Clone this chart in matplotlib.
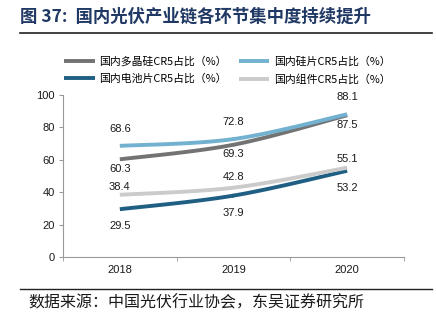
import numpy as np
import matplotlib
matplotlib.use("Agg")
import matplotlib.pyplot as plt
from matplotlib.lines import Line2D

plt.rcParams["font.family"] = ["Liberation Sans", "Noto Sans CJK SC", "DejaVu Sans"]

years = ["2018", "2019", "2020"]
polysilicon = [60.3, 69.3, 87.5]
wafer = [68.6, 72.8, 88.1]
cell = [29.5, 37.9, 53.2]
module = [38.4, 42.8, 55.1]

series_names = ["国内多晶硅CR5占比（%）", "国内硅片CR5占比（%）", "国内电池片CR5占比（%）", "国内组件CR5占比（%）"]
series_values = [polysilicon, wafer, cell, module]
series_colors = ["#737373", "#72b1cf", "#1f5f83", "#cbcbcb"]
# label offsets in pixels (negative = above the point)
label_offsets = [
    [10, 9, 9.5],
    [-17, -17, -17.5],
    [17, 17, 17.5],
    [-7.5, -10.5, -8.5],
]


def smooth(xs, ys, n=40):
    # catmull-rom through the points, like excel smoothed lines
    xs = np.asarray(xs, float)
    ys = np.asarray(ys, float)
    px = np.concatenate([[xs[0]], xs, [xs[-1]]])
    py = np.concatenate([[ys[0]], ys, [ys[-1]]])
    out_x, out_y = [], []
    for i in range(1, len(px) - 2):
        t = np.linspace(0, 1, n)
        for arr, out in ((px, out_x), (py, out_y)):
            p0, p1, p2, p3 = arr[i - 1], arr[i], arr[i + 1], arr[i + 2]
            out.extend(0.5 * ((2 * p1) + (-p0 + p2) * t + (2 * p0 - 5 * p1 + 4 * p2 - p3) * t ** 2
                              + (-p0 + 3 * p1 - 3 * p2 + p3) * t ** 3))
    return out_x, out_y


fig = plt.figure(figsize=(4.36, 3.21), dpi=100)
ax = fig.add_axes([0.1445, 0.1994, 0.7821, 0.5046])

x = np.arange(len(years))
handles = []
for name, values, color, offsets in zip(series_names, series_values, series_colors, label_offsets):
    sx, sy = smooth(x, values)
    line, = ax.plot(sx, sy, color=color, lw=2.8, solid_capstyle="butt", label=name)
    handles.append(line)
    for xi, v, off in zip(x, values, offsets):
        ax.annotate(f"{v:.1f}", (xi, v), xytext=(0, -off * 0.72), textcoords="offset points",
                    ha="center", va="center", fontsize=8, color="#1a1a1a")

ax.set_xlim(-0.5, 2.5)
ax.set_ylim(0, 100)
ax.set_yticks(range(0, 101, 20))
ax.set_xticks(x)
ax.set_xticklabels(years)
ax.set_xticks([-0.5, 0.5, 1.5, 2.5], minor=True)
ax.tick_params(axis="x", which="major", length=0, labelsize=8, colors="#1a1a1a", pad=6)
ax.tick_params(axis="x", which="minor", length=3, color="#999999")
ax.tick_params(axis="y", length=3, color="#999999", labelsize=8, labelcolor="#1a1a1a", pad=3)
for side in ("top", "right"):
    ax.spines[side].set_visible(False)
for side in ("left", "bottom"):
    ax.spines[side].set_color("#999999")
    ax.spines[side].set_linewidth(0.8)

order = [handles[0], handles[2], handles[1], handles[3]]
fig.legend(order, [h.get_label() for h in order], loc="center", bbox_to_anchor=(0.522, 0.781),
           ncol=2, frameon=False, handlelength=2.8, handletextpad=0.45,
           columnspacing=1.1, labelspacing=0.65,
           prop={"family": ["Noto Sans CJK SC", "DejaVu Sans"], "size": 7.8})

fig.text(0.046, 0.947, "图 37:  国内光伏产业链各环节集中度持续提升", fontsize=12.5, fontweight="bold",
         color="#1f3864", va="center", ha="left", family=["Noto Sans CJK SC", "DejaVu Sans"])
fig.add_artist(Line2D([0.046, 0.99], [0.897, 0.897], color="#222222", lw=1.2))
fig.add_artist(Line2D([0.046, 0.99], [0.100, 0.100], color="#222222", lw=1.0))
fig.text(0.064, 0.056, "数据来源：中国光伏行业协会，东吴证券研究所", fontsize=11.5, color="#1a1a1a",
         va="center", ha="left", family=["Noto Sans CJK SC", "DejaVu Sans"])

fig.savefig("out.png", dpi=100)
